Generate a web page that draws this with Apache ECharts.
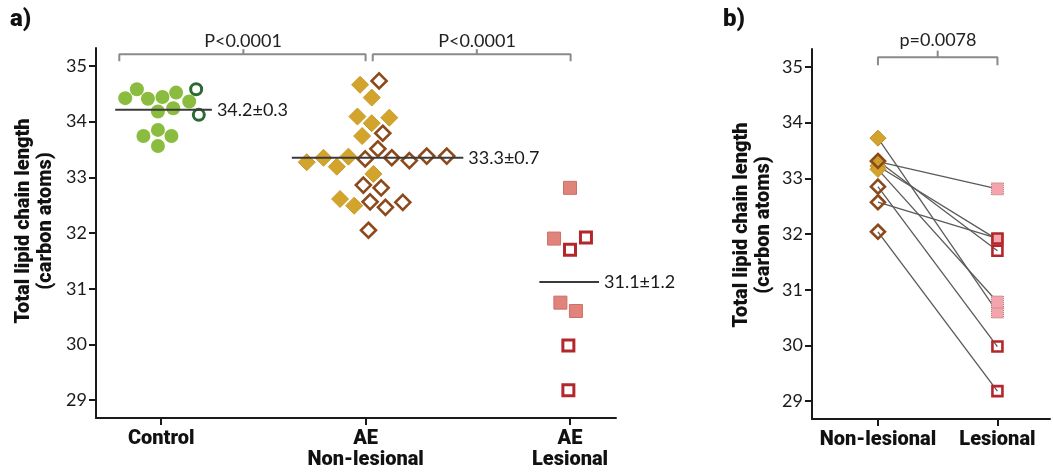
<!DOCTYPE html>
<html>
<head>
<meta charset="utf-8">
<script src="https://cdn.jsdelivr.net/npm/echarts@6/dist/echarts.min.js"></script>
<style>
  html, body { margin: 0; padding: 0; background: #fff; }
  #chart { width: 1053px; height: 472px; }
</style>
</head>
<body>
<div id="chart"></div>
<script>
// panel a: x = group index (0 Control, 1 AE non-lesional, 2 AE lesional) + jitter
var groupsA = ['Control', 'AE\nNon-lesional', 'AE\nLesional'];
var groupsB = ['Non-lesional', 'Lesional'];
var yTicks = [29, 30, 31, 32, 33, 34, 35];

var controlFilled = [[-0.176, 34.42], [-0.119, 34.58], [-0.065, 34.41], [0.006, 34.44], [0.073, 34.52], [0.137, 34.36],
  [-0.016, 34.18], [0.059, 34.24], [-0.087, 33.74], [-0.016, 33.85], [0.050, 33.74], [-0.016, 33.56]];
var controlOpen = [[0.171, 34.58], [0.184, 34.12]];
var nonLesFilled = [[0.973, 34.66], [1.030, 34.43], [0.960, 34.09], [1.030, 33.97], [1.116, 34.07], [0.983, 33.74],
  [0.712, 33.27], [0.794, 33.35], [0.859, 33.19], [0.916, 33.37], [1.038, 33.06], [0.875, 32.61], [0.944, 32.49]];
var nonLesOpen = [[1.066, 34.73], [1.084, 33.79], [1.060, 33.51], [0.998, 33.33], [1.128, 33.35], [1.214, 33.30],
  [1.299, 33.38], [1.397, 33.38], [0.989, 32.86], [1.076, 32.81], [1.022, 32.56], [1.097, 32.46], [1.182, 32.55], [1.014, 32.05]];
var lesFilled = [[2.000, 32.81], [1.922, 31.90], [1.953, 30.75], [2.029, 30.60]];
var lesOpen = [[2.078, 31.92], [2.000, 31.70], [1.992, 29.98], [1.992, 29.18]];
var means = [34.21, 33.35, 31.12];
var meanLabels = ['34.2±0.3', '33.3±0.7', '31.1±1.2'];
var pValuesA = ['P<0.0001', 'P<0.0001'];
var pValueB = 'p=0.0078';

// panel b: paired samples, first four filled, last four open
var pairedNonLes = [33.72, 33.30, 33.22, 33.16, 33.31, 32.85, 32.57, 32.04];
var pairedLes = [30.60, 32.81, 31.90, 30.78, 31.70, 29.98, 31.92, 29.18];
var pairedOpen = [false, false, false, false, true, true, true, true];

var chart = echarts.init(document.getElementById('chart'));

var tickFont = 'Lato, sans-serif';
var boldFont = 'Roboto, sans-serif';
var ink = '#1a1a1a';

function xAxisCfg(grid, min, max, names) {
  var vals = names.map(function (n, i) { return i; });
  return {
    type: 'value', gridIndex: grid, min: min, max: max,
    axisLine: { show: true, onZero: false, lineStyle: { color: ink, width: 2 } },
    axisTick: { show: true, customValues: vals, length: 7, lineStyle: { color: ink, width: 2 } },
    axisLabel: {
      customValues: vals, margin: 10, color: '#111', fontSize: 20, fontWeight: 900,
      fontFamily: boldFont, lineHeight: 21,
      formatter: function (v) { return names[Math.round(v)]; }
    },
    splitLine: { show: false }
  };
}
function yAxisCfg(grid) {
  return {
    type: 'value', gridIndex: grid, min: 28.68, max: 35.32,
    axisLine: { show: true, onZero: false, lineStyle: { color: ink, width: 2 } },
    axisTick: { show: true, customValues: yTicks, length: 7, lineStyle: { color: ink, width: 2 } },
    axisLabel: { customValues: yTicks, margin: 9, color: ink, fontSize: 18, fontFamily: tickFont },
    splitLine: { show: false }
  };
}

function scatter(idx, data, symbol, size, fill, border, bw, z) {
  return {
    type: 'scatter', xAxisIndex: idx, yAxisIndex: idx, data: data, symbol: symbol, symbolSize: size,
    itemStyle: { color: fill, borderColor: border, borderWidth: bw, opacity: 1 },
    z: z || 3, silent: true
  };
}
function path(idx, pts, color, width, z) {
  return {
    type: 'line', xAxisIndex: idx, yAxisIndex: idx, data: pts, symbol: 'none',
    lineStyle: { color: color, width: width }, z: z || 2, silent: true, animation: false
  };
}

var meanSpan = [[-0.225, 0.248], [-0.361, 0.478], [-0.15, 0.142]];
var series = [];

// mean lines with labels
means.forEach(function (m, i) {
  var s = path(0, [[i + meanSpan[i][0], m], [i + meanSpan[i][1], m]], '#3a3a3a', 2, 4);
  s.endLabel = { show: true, formatter: meanLabels[i], distance: 5, color: ink, fontSize: 18, fontFamily: tickFont };
  series.push(s);
});

// brackets panel a
series.push(path(0, [[-0.205, 35.08], [-0.205, 35.21], [1.0, 35.21], [1.0, 35.08]], '#8a8a8a', 2));
series.push(path(0, [[0.402, 35.21], [0.402, 35.30]], '#8a8a8a', 2));
series.push(path(0, [[1.035, 35.08], [1.035, 35.21], [2.003, 35.21], [2.003, 35.08]], '#8a8a8a', 2));
series.push(path(0, [[1.544, 35.21], [1.544, 35.30]], '#8a8a8a', 2));

// panel a points
series.push(scatter(0, controlFilled, 'circle', 14, '#8abd3f', '#8abd3f', 0));
series.push(scatter(0, controlOpen, 'circle', 11, 'rgba(0,0,0,0)', '#2b6a30', 3));
series.push(scatter(0, nonLesFilled, 'diamond', 17, '#d2a42c', '#c99a26', 1));
series.push(scatter(0, nonLesOpen, 'diamond', 15, 'rgba(0,0,0,0)', '#8c4a1c', 2.6));
series.push(scatter(0, lesFilled, 'rect', 13, '#df837b', '#cf6f68', 1));
series.push(scatter(0, lesOpen, 'rect', 11, 'rgba(0,0,0,0)', '#b3272c', 3));

// panel b bracket
series.push(path(1, [[0, 35.03], [0, 35.17], [1, 35.17], [1, 35.03]], '#8a8a8a', 2));
series.push(path(1, [[0.5, 35.17], [0.5, 35.29]], '#8a8a8a', 2));

// panel b pair lines
pairedNonLes.forEach(function (v, i) {
  series.push(path(1, [[0, v], [1, pairedLes[i]]], '#5a5a5a', 1.3, 2));
});
var bNonFilled = [], bNonOpen = [], bLesFilled = [], bLesOpen = [];
pairedNonLes.forEach(function (v, i) {
  (pairedOpen[i] ? bNonOpen : bNonFilled).push([0, v]);
  (pairedOpen[i] ? bLesOpen : bLesFilled).push([1, pairedLes[i]]);
});
series.push(scatter(1, bNonFilled, 'diamond', 16, '#d2a42c', '#b88f28', 1));
series.push(scatter(1, bNonOpen, 'diamond', 14, 'rgba(0,0,0,0)', '#8c4a1c', 2.6, 4));
series.push(scatter(1, bLesFilled, 'rect', 12, '#f4a4ac', '#a97a6a', 1));
series.push(scatter(1, bLesOpen, 'rect', 10, 'rgba(0,0,0,0)', '#b3272c', 2.6, 4));
series[series.length - 2].itemStyle.borderType = 'dotted';

var titleStyle = {
  text: 'Total lipid chain length\n(carbon atoms)', textAlign: 'center', textVerticalAlign: 'middle',
  fill: '#111', font: '900 20px ' + boldFont, lineHeight: 22
};
var pStyle = function (t) {
  return { text: t, textAlign: 'center', textVerticalAlign: 'middle', fill: '#222', font: '18px ' + tickFont };
};

chart.setOption({
  animation: false,
  grid: [
    { left: 96, top: 48, width: 520, height: 370 },
    { left: 812, top: 49, width: 238, height: 370 }
  ],
  xAxis: [xAxisCfg(0, -0.319, 2.225, groupsA), xAxisCfg(1, -0.552, 1.44, groupsB)],
  yAxis: [yAxisCfg(0), yAxisCfg(1)],
  graphic: [
    { type: 'text', left: 10, top: 8, style: { text: 'a)', fill: '#111', font: '900 24px ' + boldFont } },
    { type: 'text', left: 723, top: 8, style: { text: 'b)', fill: '#111', font: '900 24px ' + boldFont } },
    { type: 'text', x: 35, y: 221, rotation: Math.PI / 2, style: titleStyle },
    { type: 'text', x: 753, y: 225, rotation: Math.PI / 2, style: titleStyle },
    { type: 'text', x: 243, y: 41, style: pStyle(pValuesA[0]) },
    { type: 'text', x: 477, y: 41, style: pStyle(pValuesA[1]) },
    { type: 'text', x: 938, y: 40, style: pStyle(pValueB) }
  ],
  series: series
});
</script>
</body>
</html>
